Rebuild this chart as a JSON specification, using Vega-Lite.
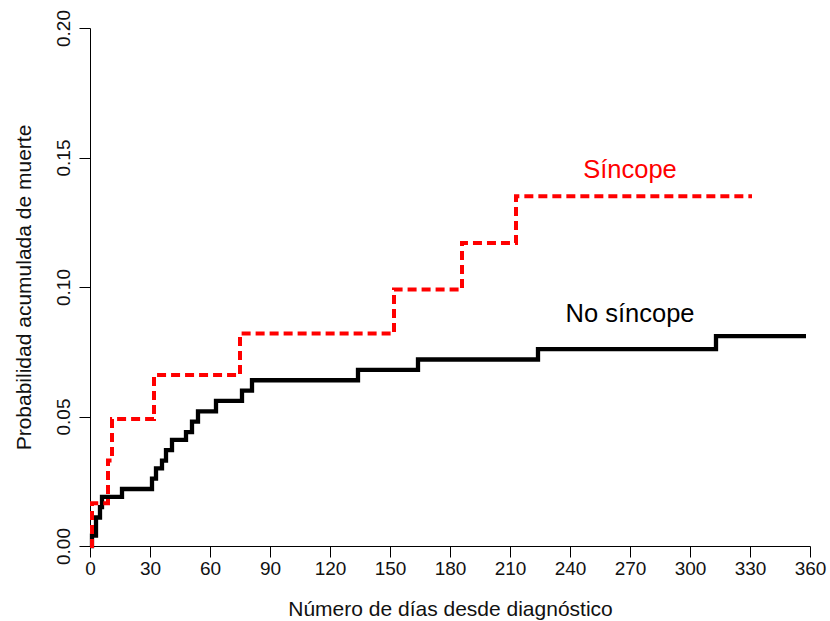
{
  "$schema": "https://vega.github.io/schema/vega-lite/v6.json",
  "autosize": "none",
  "width": 720,
  "height": 518,
  "padding": {"left": 90, "top": 28, "right": 20, "bottom": 75},
  "background": "white",
  "config": {
    "view": {"stroke": null},
    "font": "Liberation Sans",
    "axis": {
      "grid": false,
      "domainColor": "#000000",
      "domainWidth": 1,
      "tickColor": "#000000",
      "tickWidth": 1,
      "tickSize": 11,
      "labelFont": "Liberation Sans",
      "labelFontSize": 19,
      "labelColor": "#111111",
      "titleFont": "Liberation Sans",
      "titleFontSize": 21,
      "titleFontWeight": "normal",
      "titleColor": "#111111"
    }
  },
  "datasets": {
    "curvas": [
      {"grupo": "No síncope", "dias": 0, "prob": 0},
      {"grupo": "No síncope", "dias": 1, "prob": 0.004},
      {"grupo": "No síncope", "dias": 3, "prob": 0.011},
      {"grupo": "No síncope", "dias": 5, "prob": 0.015},
      {"grupo": "No síncope", "dias": 6, "prob": 0.019},
      {"grupo": "No síncope", "dias": 16, "prob": 0.022},
      {"grupo": "No síncope", "dias": 31, "prob": 0.026},
      {"grupo": "No síncope", "dias": 33, "prob": 0.030},
      {"grupo": "No síncope", "dias": 36, "prob": 0.033},
      {"grupo": "No síncope", "dias": 38, "prob": 0.037},
      {"grupo": "No síncope", "dias": 41, "prob": 0.041},
      {"grupo": "No síncope", "dias": 48, "prob": 0.044},
      {"grupo": "No síncope", "dias": 51, "prob": 0.048},
      {"grupo": "No síncope", "dias": 54, "prob": 0.052},
      {"grupo": "No síncope", "dias": 63, "prob": 0.056},
      {"grupo": "No síncope", "dias": 76, "prob": 0.060},
      {"grupo": "No síncope", "dias": 81, "prob": 0.064},
      {"grupo": "No síncope", "dias": 134, "prob": 0.068},
      {"grupo": "No síncope", "dias": 164, "prob": 0.072},
      {"grupo": "No síncope", "dias": 224, "prob": 0.076},
      {"grupo": "No síncope", "dias": 313, "prob": 0.081},
      {"grupo": "No síncope", "dias": 358, "prob": 0.081},
      {"grupo": "Síncope", "dias": 0, "prob": 0},
      {"grupo": "Síncope", "dias": 1, "prob": 0.0165},
      {"grupo": "Síncope", "dias": 9, "prob": 0.033},
      {"grupo": "Síncope", "dias": 11, "prob": 0.049},
      {"grupo": "Síncope", "dias": 32, "prob": 0.066},
      {"grupo": "Síncope", "dias": 75, "prob": 0.082},
      {"grupo": "Síncope", "dias": 152, "prob": 0.099},
      {"grupo": "Síncope", "dias": 186, "prob": 0.117},
      {"grupo": "Síncope", "dias": 213, "prob": 0.135},
      {"grupo": "Síncope", "dias": 331, "prob": 0.135}
    ],
    "etiquetas": [
      {"grupo": "Síncope", "dias": 270, "prob": 0.1422},
      {"grupo": "No síncope", "dias": 270, "prob": 0.0866}
    ]
  },
  "encoding": {
    "x": {
      "field": "dias",
      "type": "quantitative",
      "scale": {"domain": [0, 360], "nice": false, "zero": false},
      "axis": {
        "values": [0, 30, 60, 90, 120, 150, 180, 210, 240, 270, 300, 330, 360],
        "labelPadding": 2,
        "labelFlush": false,
        "labelOverlap": false,
        "title": "Número de días desde diagnóstico",
        "titlePadding": 20
      }
    },
    "y": {
      "field": "prob",
      "type": "quantitative",
      "scale": {"domain": [0, 0.2], "nice": false},
      "axis": {
        "values": [0, 0.05, 0.1, 0.15, 0.2],
        "format": ".2f",
        "labelAngle": -90,
        "labelAlign": "center",
        "labelBaseline": "alphabetic",
        "labelPadding": 10,
        "labelFlush": false,
        "labelOverlap": false,
        "title": "Probabilidad acumulada de muerte",
        "titlePadding": 20
      }
    }
  },
  "layer": [
    {
      "data": {"name": "curvas"},
      "transform": [{"filter": "datum.grupo === 'No síncope'"}],
      "mark": {"type": "line", "interpolate": "step-after", "color": "#000000", "strokeWidth": 4.3, "strokeCap": "butt", "strokeJoin": "miter"},
      "encoding": {}
    },
    {
      "data": {"name": "curvas"},
      "transform": [{"filter": "datum.grupo === 'Síncope'"}],
      "mark": {"type": "line", "interpolate": "step-after", "color": "#FF0000", "strokeWidth": 4, "strokeDash": [9, 5], "strokeCap": "butt", "strokeJoin": "miter"},
      "encoding": {}
    },
    {
      "data": {"name": "etiquetas"},
      "mark": {"type": "text", "font": "Liberation Sans", "fontSize": 25.5, "align": "center", "baseline": "alphabetic"},
      "encoding": {
        "text": {"field": "grupo"},
        "color": {
          "field": "grupo",
          "type": "nominal",
          "scale": {"domain": ["No síncope", "Síncope"], "range": ["#000000", "#FF0000"]},
          "legend": null
        }
      }
    }
  ]
}
